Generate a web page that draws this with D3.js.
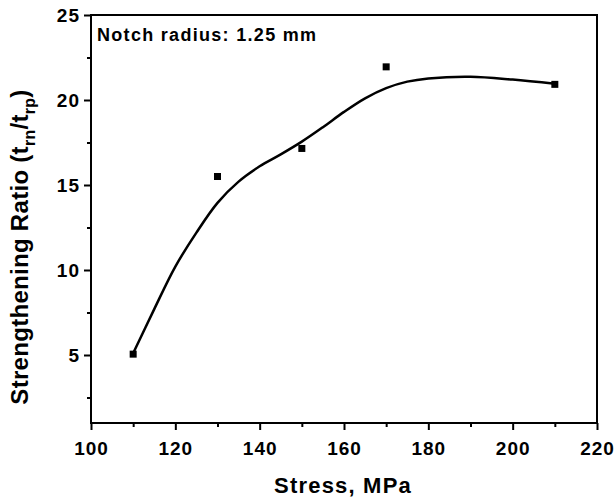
<!DOCTYPE html>
<html lang="en">
<head>
<meta charset="UTF-8">
<title>Strengthening ratio vs stress</title>
<script src="https://cdn.jsdelivr.net/npm/d3@7"></script>
<style>
  body { margin: 0; background: #fff; }
  text { font-family: "Liberation Sans", Arial, sans-serif; font-weight: bold; fill: #000; }
</style>
</head>
<body>
<div id="chart"></div>
<script>
// measured points
var stress = [110, 130, 150, 170, 210];
var ratio = [5.05, 15.5, 17.15, 21.95, 20.92];

// fitted curve
var fitStress = [110, 115, 120, 125, 130, 135, 140, 145, 150, 155, 160, 165, 170, 175, 180, 190, 200, 210];
var fitRatio  = [5.1, 7.7, 10.2, 12.2, 13.95, 15.2, 16.1, 16.8, 17.55, 18.4, 19.3, 20.1, 20.7, 21.08, 21.27, 21.37, 21.2, 20.95];

var xTicks = [100, 120, 140, 160, 180, 200, 220];
var yTicks = [5, 10, 15, 20, 25];

var W = 614, H = 499;
var m = { left: 91, right: 17, top: 15, bottom: 76 };

var svg = d3.select("#chart").append("svg")
  .attr("width", W).attr("height", H);

var x = d3.scaleLinear().domain([100, 220]).range([m.left, W - m.right]);
var y = d3.scaleLinear().domain([1, 25]).range([H - m.bottom, m.top]);

// frame
svg.append("rect")
  .attr("x", x(100)).attr("y", y(25))
  .attr("width", x(220) - x(100)).attr("height", y(1) - y(25))
  .attr("fill", "none").attr("stroke", "#000").attr("stroke-width", 2);

// x axis
var gx = svg.append("g").attr("transform", "translate(0," + y(1) + ")");
gx.call(d3.axisBottom(x).tickValues(xTicks).tickSize(7).tickPadding(12));
gx.append("g").call(d3.axisBottom(x).tickValues(d3.range(110, 220, 20)).tickSize(4).tickFormat(""));

// y axis
var gy = svg.append("g").attr("transform", "translate(" + x(100) + ",0)");
gy.call(d3.axisLeft(y).tickValues(yTicks).tickSize(7).tickPadding(4));
gy.append("g").call(d3.axisLeft(y).tickValues([2.5, 7.5, 12.5, 17.5, 22.5]).tickSize(4).tickFormat(""));

svg.selectAll(".domain").attr("stroke", "none");
svg.selectAll(".tick line").attr("stroke", "#000").attr("stroke-width", 2);
svg.selectAll(".tick text")
  .style("font-size", "19px")
  .style("letter-spacing", "1px")
  .style("font-family", "Liberation Sans, Arial, sans-serif")
  .style("font-weight", "bold");

// fit line
var line = d3.line()
  .x(function(d, i) { return x(fitStress[i]); })
  .y(function(d) { return y(d); })
  .curve(d3.curveCatmullRom);

svg.append("path")
  .datum(fitRatio)
  .attr("d", line)
  .attr("fill", "none")
  .attr("stroke", "#000")
  .attr("stroke-width", 2.5);

// markers
svg.selectAll("rect.pt")
  .data(stress)
  .enter().append("rect")
  .attr("class", "pt")
  .attr("x", function(d) { return x(d) - 3.5; })
  .attr("y", function(d, i) { return y(ratio[i]) - 3.5; })
  .attr("width", 7).attr("height", 7)
  .attr("fill", "#000");

// annotation
svg.append("text")
  .attr("x", 97).attr("y", 41)
  .style("font-size", "18px")
  .style("letter-spacing", "1.3px")
  .text("Notch radius: 1.25 mm");

// axis titles
svg.append("text")
  .attr("x", 343).attr("y", 493)
  .attr("text-anchor", "middle")
  .style("font-size", "22px")
  .style("letter-spacing", "1.2px")
  .text("Stress, MPa");

var yl = svg.append("text")
  .attr("transform", "translate(28,247) rotate(-90)")
  .attr("text-anchor", "middle")
  .style("font-size", "24px")
  .style("letter-spacing", "0.3px");
yl.append("tspan").text("Strengthening Ratio (t");
yl.append("tspan").attr("dy", 7).style("font-size", "16px").text("rn");
yl.append("tspan").attr("dy", -7).text("/t");
yl.append("tspan").attr("dy", 7).style("font-size", "16px").text("rp");
yl.append("tspan").attr("dy", -7).text(")");
</script>
</body>
</html>
